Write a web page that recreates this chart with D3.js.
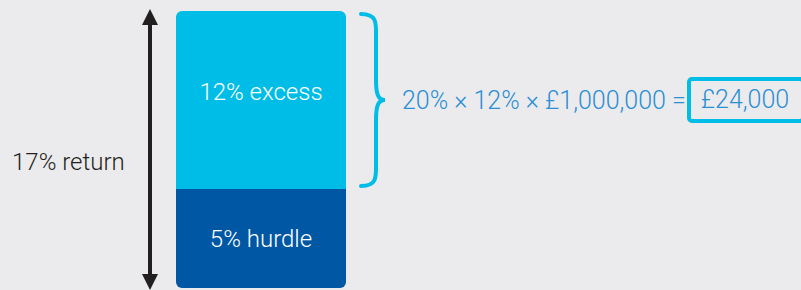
<!DOCTYPE html>
<html>
<head>
<meta charset="utf-8">
<script src="https://cdn.jsdelivr.net/npm/d3@7"></script>
<style>
  body { margin: 0; background: #ebebed; }
  svg { display: block; }
</style>
</head>
<body>
<div id="chart"></div>
<script>
const width = 801;
const height = 290;

// data
const segments = ["5% hurdle", "12% excess"];
const segmentValues = [5, 12];
const totalLabel = "17% return";
const formulaText = "20% \u00d7 12% \u00d7 \u00a31,000,000 = ";
const resultText = "\u00a324,000";

const colors = ["#0057a4", "#00bde8"];

const svg = d3.select("#chart")
    .append("svg")
    .attr("width", width)
    .attr("height", height);

// stack the segments
let acc = 0;
const stacked = segmentValues.map((v, i) => {
    const d = { label: segments[i], y0: acc, y1: acc + v, color: colors[i] };
    acc += v;
    return d;
});
const total = acc;

// the picture draws the hurdle part taller than its share, so piecewise scale
const y = d3.scaleLinear()
    .domain([0, segmentValues[0], total])
    .range([288, 189, 11]);

const x = d3.scaleBand()
    .domain(["bar"])
    .range([176, 346]);

const r = 6;
const bx = x("bar"), bw = x.bandwidth();

// clip for rounded corners of whole bar
svg.append("clipPath")
    .attr("id", "barclip")
    .append("rect")
    .attr("x", bx)
    .attr("y", y(total))
    .attr("width", bw)
    .attr("height", y(0) - y(total))
    .attr("rx", r);

svg.append("g")
    .attr("clip-path", "url(#barclip)")
    .selectAll("rect")
    .data(stacked)
    .join("rect")
        .attr("x", bx)
        .attr("y", d => y(d.y1))
        .attr("width", bw)
        .attr("height", d => y(d.y0) - y(d.y1))
        .attr("fill", d => d.color);

// labels: hurdle sits a bit below centre, excess a bit above
svg.append("g")
    .selectAll("text")
    .data(stacked)
    .join("text")
        .attr("x", bx + bw / 2)
        .attr("y", (d, i) => (y(d.y0) + y(d.y1)) / 2 + (i === 0 ? 8.5 : 0))
        .attr("text-anchor", "middle")
        .attr("fill", "#fff")
        .style("font-family", "Roboto")
        .style("font-weight", 300)
        .style("font-size", "24px")
        .text(d => d.label);

// double arrow
const ax = 150;
const arrowCol = "#231f20";
svg.append("line")
    .attr("x1", ax).attr("x2", ax)
    .attr("y1", y(total) + 10).attr("y2", y(0) - 8)
    .attr("stroke", arrowCol)
    .attr("stroke-width", 4);
svg.append("path")
    .attr("d", `M${ax},${y(total) - 2} L${ax + 8},${y(total) + 14} L${ax - 8},${y(total) + 14} Z`)
    .attr("fill", arrowCol);
svg.append("path")
    .attr("d", `M${ax},${y(0) + 2} L${ax + 8},${y(0) - 14} L${ax - 8},${y(0) - 14} Z`)
    .attr("fill", arrowCol);

svg.append("text")
    .attr("x", 12)
    .attr("y", 170)
    .attr("fill", arrowCol)
    .style("font-family", "Roboto")
    .style("font-weight", 300)
    .style("font-size", "24px")
    .text(totalLabel);

// brace next to excess segment
const braceTop = y(total) + 3, braceBot = y(segmentValues[0]) - 3, braceMid = (braceTop + braceBot) / 2;
const bxl = 361, bxm = 376, bxr = 385;
svg.append("path")
    .attr("d", `M${bxl},${braceTop} C${bxm + 2},${braceTop} ${bxm},${braceTop + 10} ${bxm},${braceTop + 25}
                L${bxm},${braceMid - 20} C${bxm},${braceMid - 6} ${bxm + 2},${braceMid} ${bxr},${braceMid}
                C${bxm + 2},${braceMid} ${bxm},${braceMid + 6} ${bxm},${braceMid + 20}
                L${bxm},${braceBot - 25} C${bxm},${braceBot - 10} ${bxm + 2},${braceBot} ${bxl},${braceBot}`)
    .attr("fill", "none")
    .attr("stroke", "#00bde8")
    .attr("stroke-width", 4)
    .attr("stroke-linecap", "round");

svg.append("text")
    .attr("x", 402)
    .attr("y", 109)
    .attr("fill", "#2b8fd4")
    .style("font-family", "Roboto")
    .style("font-weight", 300)
    .style("font-size", "25px")
    .text(formulaText);

svg.append("rect")
    .attr("x", 689)
    .attr("y", 79)
    .attr("width", 114)
    .attr("height", 42)
    .attr("rx", 3)
    .attr("fill", "none")
    .attr("stroke", "#00bde8")
    .attr("stroke-width", 4);

svg.append("text")
    .attr("x", 745)
    .attr("y", 108)
    .attr("text-anchor", "middle")
    .attr("fill", "#2b8fd4")
    .style("font-family", "Roboto")
    .style("font-weight", 300)
    .style("font-size", "25px")
    .text(resultText);
</script>
</body>
</html>
